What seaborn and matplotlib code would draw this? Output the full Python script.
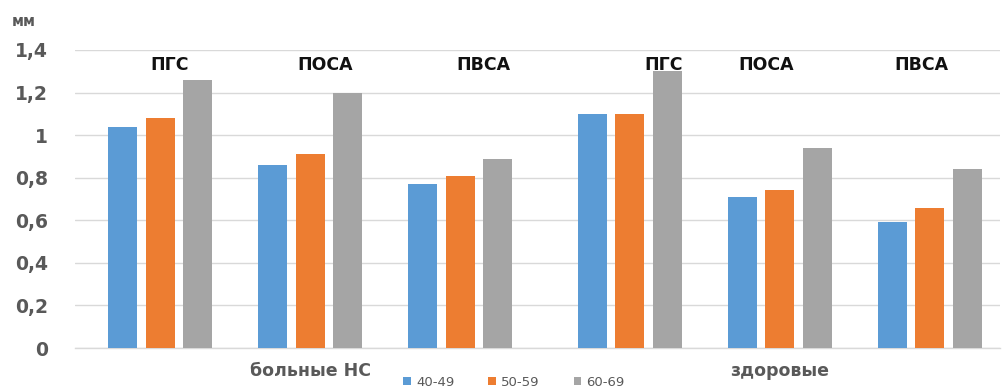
import numpy as np
import pandas as pd
import matplotlib
matplotlib.use("Agg")
import matplotlib.pyplot as plt
import seaborn as sns

# Measurement groups and age bands
cohorts = ["больные НС", "здоровые"]
measures = ["ПГС", "ПОСА", "ПВСА"]
age_bands = ["40-49", "50-59", "60-69"]

# Values in mm, one list per age band, ordered cohort by cohort, measure by measure
age_40_49 = [1.04, 0.86, 0.77, 1.10, 0.71, 0.59]
age_50_59 = [1.08, 0.91, 0.81, 1.10, 0.74, 0.66]
age_60_69 = [1.26, 1.20, 0.89, 1.30, 0.94, 0.84]

y_ticks = [0, 0.2, 0.4, 0.6, 0.8, 1, 1.2, 1.4]
y_tick_labels = ["0", "0,2", "0,4", "0,6", "0,8", "1", "1,2", "1,4"]
unit_label = "мм"

colors = ["#5B9BD5", "#ED7D31", "#A5A5A5"]
text_gray = "#595959"

sns.set_theme(style="white")
plt.rcParams["font.family"] = ["DejaVu Sans"]

# Slot positions: measures side by side, with a little extra room between cohorts
cohort_gap = 0.133
slots = []
for c in range(len(cohorts)):
    for m in range(len(measures)):
        slots.append(c * (len(measures) + cohort_gap) + m)

rows = []
series = [age_40_49, age_50_59, age_60_69]
for band, vals in zip(age_bands, series):
    for i, v in enumerate(vals):
        rows.append({"pos": slots[i], "age": band, "value": v,
                     "measure": measures[i % len(measures)]})
df = pd.DataFrame(rows)

fig = plt.figure(figsize=(10.03, 3.88), dpi=100)
ax = fig.add_axes([75 / 1003, 1 - 348 / 388, 925 / 1003, 298 / 388])

sns.barplot(data=df, x="pos", y="value", hue="age", hue_order=age_bands,
            palette=colors, native_scale=True, width=0.75, gap=0.227,
            saturation=1, errorbar=None, legend=True, ax=ax,
            edgecolor="none", zorder=3)

ax.set_xlim(slots[0] - 0.567, slots[-1] + 0.467)
ax.set_ylim(0, 1.4)
ax.set_yticks(y_ticks)
ax.set_yticklabels(y_tick_labels)
ax.yaxis.grid(True, color="#D9D9D9", linewidth=1.0, zorder=0)
ax.set_axisbelow(True)
ax.set_xticks([])
ax.set_xlabel("")
ax.set_ylabel("")
for side in ["top", "right", "left"]:
    ax.spines[side].set_visible(False)
ax.spines["bottom"].set_color("#D9D9D9")
ax.spines["bottom"].set_linewidth(1.0)
ax.tick_params(axis="y", length=0, pad=19.5, labelsize=13.5, labelcolor=text_gray)
for lab in ax.get_yticklabels():
    lab.set_fontweight("bold")

# Measure names above each bar group
label_shift = [0.067, 0.10, 0.153, 0.227, -0.093, -0.06]
for i, pos in enumerate(slots):
    ax.text(pos + label_shift[i], 1.33, measures[i % len(measures)],
            ha="center", va="center", fontsize=12.5, fontweight="bold",
            color="#111111")

# Cohort names under the axis
cohort_centers = [slots[1], slots[4]]
for name, cx in zip(cohorts, cohort_centers):
    ax.text(cx, -0.108, name, ha="center", va="center", fontsize=12.5,
            fontweight="bold", color=text_gray, clip_on=False)

fig.text(12 / 1003, 1 - 21 / 388, unit_label, ha="left", va="center",
         fontsize=10.5, fontweight="bold", color=text_gray)

handles, labels = ax.get_legend_handles_labels()
ax.get_legend().remove()
fig.legend(handles, labels, loc="center", ncol=3,
           bbox_to_anchor=(514 / 1003, 1 - 382 / 388), frameon=False,
           fontsize=9.5, handlelength=0.55, handleheight=0.55,
           handletextpad=0.4, columnspacing=2.6, labelcolor=text_gray,
           borderpad=0)

fig.savefig("out.png", dpi=100, facecolor="white")
